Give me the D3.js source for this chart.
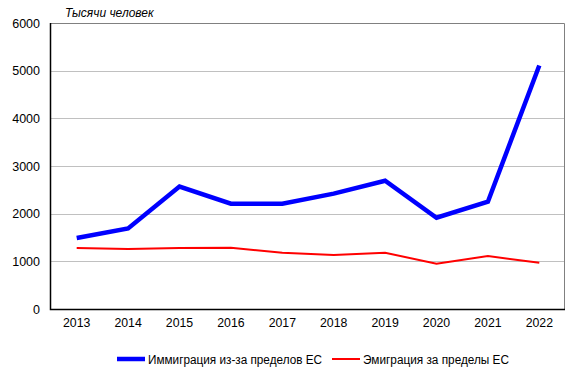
<!DOCTYPE html>
<html>
<head>
<meta charset="utf-8">
<script src="https://cdn.jsdelivr.net/npm/d3@7"></script>
<style>
  body { margin: 0; background: #fff; }
  svg text { font-family: "Liberation Sans", Arial, sans-serif; fill: #000; }
</style>
</head>
<body>
<div id="chart"></div>
<script>
// data
var years = ["2013", "2014", "2015", "2016", "2017", "2018", "2019", "2020", "2021", "2022"];
var immigration = [1490, 1690, 2570, 2210, 2210, 2420, 2690, 1915, 2250, 5110];
var emigration = [1280, 1260, 1280, 1285, 1180, 1135, 1180, 950, 1110, 970];
var yTicks = [0, 1000, 2000, 3000, 4000, 5000, 6000];
var seriesNames = ["Иммиграция из-за пределов ЕС", "Эмиграция за пределы ЕС"];

var W = 578, H = 373;
var margin = { top: 23, right: 13, bottom: 64, left: 51 },
  width = W - margin.left - margin.right,
  height = H - margin.top - margin.bottom;

var svg = d3.select("#chart").append("svg")
  .attr("width", W)
  .attr("height", H);

var g = svg.append("g")
  .attr("transform", "translate(" + margin.left + "," + margin.top + ")");

var x = d3.scaleBand().domain(years).range([0, width]);
var y = d3.scaleLinear().domain([0, 6000]).range([height, 0]);

// gridlines
g.selectAll(".grid")
  .data(yTicks.filter(function (d) { return d > 0 && d < 6000; }))
  .enter().append("line")
  .attr("x1", 0).attr("x2", width)
  .attr("y1", function (d) { return Math.round(y(d)) + 0.5; })
  .attr("y2", function (d) { return Math.round(y(d)) + 0.5; })
  .attr("stroke", "#c0c0c0");

// frame top/right
g.append("path")
  .attr("d", "M0,0.5H" + (width - 0.5) + "V" + height)
  .attr("fill", "none")
  .attr("stroke", "#808080");

// y axis
var yAxis = g.append("g")
  .call(d3.axisLeft(y).tickValues(yTicks).tickFormat(d3.format("d")).tickSize(0).tickPadding(11));
yAxis.select(".domain").remove();
yAxis.selectAll("text").style("font-size", "12.5px")
  .attr("font-family", "Liberation Sans, Arial, sans-serif");

// x axis
var xAxis = g.append("g")
  .attr("transform", "translate(0," + height + ")")
  .call(d3.axisBottom(x).tickSize(0).tickPadding(9));
xAxis.select(".domain").remove();
xAxis.selectAll("text").style("font-size", "12.3px")
  .attr("font-family", "Liberation Sans, Arial, sans-serif");

// axis lines
g.append("path")
  .attr("d", "M-0.5,0V" + (height + 0.5) + "H" + width)
  .attr("fill", "none")
  .attr("stroke", "#000")
  .attr("stroke-width", 1.5);

var line = d3.line()
  .x(function (d, i) { return x(years[i]) + x.bandwidth() / 2; })
  .y(function (d) { return y(d); });

g.append("path")
  .datum(emigration)
  .attr("d", line)
  .attr("fill", "none")
  .attr("stroke", "#ff0000")
  .attr("stroke-width", 2);

g.append("path")
  .datum(immigration)
  .attr("d", line)
  .attr("fill", "none")
  .attr("stroke", "#0000ff")
  .attr("stroke-width", 4.5);

// unit label
svg.append("text")
  .attr("x", 65).attr("y", 17)
  .style("font-size", "12px")
  .style("font-style", "italic")
  .text("Тысячи человек");

// legend
var legend = [
  { x: 117, color: "#0000ff", w: 4.5, name: seriesNames[0], tw: 174 },
  { x: 332, color: "#ff0000", w: 2, name: seriesNames[1], tw: 146 }
];
legend.forEach(function (d) {
  svg.append("line")
    .attr("x1", d.x).attr("x2", d.x + 28)
    .attr("y1", 359).attr("y2", 359)
    .attr("stroke", d.color)
    .attr("stroke-width", d.w);
  svg.append("text")
    .attr("x", d.x + 31).attr("y", 363.5)
    .attr("textLength", d.tw)
    .attr("lengthAdjust", "spacingAndGlyphs")
    .style("font-size", "12px")
    .text(d.name);
});
</script>
</body>
</html>
